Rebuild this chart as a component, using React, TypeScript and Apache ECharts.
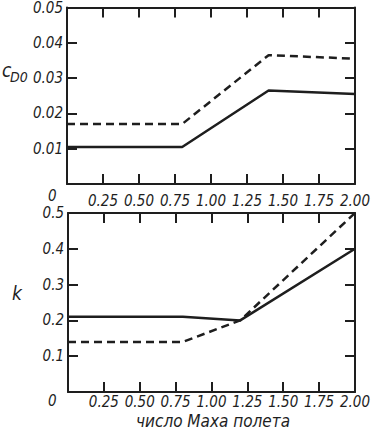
import React, { useEffect, useRef } from "react";
import * as echarts from "echarts";

const machTop = [0, 0.8, 1.4, 2.0];
const cd0Solid = [0.0105, 0.0105, 0.0265, 0.0255];
const cd0Dashed = [0.017, 0.017, 0.0365, 0.0355];

const machBottom = [0, 0.8, 1.2, 2.0];
const kSolid = [0.21, 0.21, 0.2, 0.4];
const kDashed = [0.14, 0.14, 0.2, 0.5];

const xAxisName = "число Маха полета";
const FONT = "'DejaVu Sans Condensed', 'DejaVu Sans', sans-serif";
const INK = "#1e1e1e";
const TICK_LEN = 10;

const pairs = (xs: number[], ys: number[]) => xs.map((x, i) => [x, ys[i]]);

export default function App() {
  const ref = useRef<HTMLDivElement>(null);
  useEffect(() => {
    document.body.style.margin = "0";
    const chart = echarts.init(ref.current!, null, { renderer: "svg" });
    const labelStyle = () => ({ fontFamily: FONT, fontStyle: "italic", fontSize: 15, color: INK });
    const axisLine = () => ({ show: true, onZero: false, lineStyle: { color: INK, width: 2 } });
    const tick = () => ({ show: true, inside: true, length: TICK_LEN, lineStyle: { color: INK, width: 2 } });
    const xAxis = (grid: number, position: string, labelMargin: number | null) => ({
      type: "value",
      gridIndex: grid,
      position,
      min: 0,
      max: 2,
      interval: 0.25,
      axisLine: axisLine(),
      axisTick: tick(),
      splitLine: { show: false },
      axisLabel:
        labelMargin === null
          ? { show: false }
          : {
              ...labelStyle(),
              margin: labelMargin,
              formatter: (v: number) => (v === 0 ? "" : v.toFixed(2)),
            },
    });
    const yAxis = (grid: number, position: string, max: number, interval: number, digits: number | null) => ({
      type: "value",
      gridIndex: grid,
      position,
      min: 0,
      max,
      interval,
      axisLine: axisLine(),
      axisTick: tick(),
      splitLine: { show: false },
      axisLabel:
        digits === null
          ? { show: false }
          : {
              ...labelStyle(),
              margin: 4,
              formatter: (v: number) => (v === 0 ? "" : v.toFixed(digits)),
            },
    });
    const line = (idx: number, data: number[][], dashed: boolean) => ({
      type: "line",
      xAxisIndex: idx,
      yAxisIndex: idx,
      data,
      symbol: "none",
      lineStyle: {
        color: INK,
        width: 2.5,
        type: dashed ? [8, 5] : "solid",
      },
    });
    const txt = (text: string, left: number, top: number, size: number) => ({
      text,
      left,
      top,
      padding: 0,
      textStyle: { fontFamily: FONT, fontStyle: "italic", fontWeight: "normal", fontSize: size, color: INK },
    });
    chart.setOption({
      animation: false,
      title: [
        txt("c", 2, 60, 19),
        txt("D0", 10, 70, 14),
        txt("k", 12, 283, 19),
        txt("0", 48, 188, 15),
        txt("0", 48, 393, 15),
        txt(xAxisName, 136, 412, 17),
      ],
      grid: [
        { left: 67, top: 5, width: 290, height: 179 },
        { left: 68, top: 213, width: 291, height: 179 },
      ],
      xAxis: [
        xAxis(0, "bottom", 9),
        xAxis(0, "top", null),
        xAxis(1, "bottom", 2),
        xAxis(1, "top", null),
      ],
      yAxis: [
        yAxis(0, "left", 0.05, 0.01, 2),
        yAxis(0, "right", 0.05, 0.01, null),
        yAxis(1, "left", 0.5, 0.1, 1),
        yAxis(1, "right", 0.5, 0.1, null),
      ],
      series: [
        line(0, pairs(machTop, cd0Solid), false),
        line(0, pairs(machTop, cd0Dashed), true),
        line(2, pairs(machBottom, kSolid), false),
        line(2, pairs(machBottom, kDashed), true),
      ],
    });
    return () => chart.dispose();
  }, []);
  return <div ref={ref} style={{ width: 373, height: 429 }} />;
}
